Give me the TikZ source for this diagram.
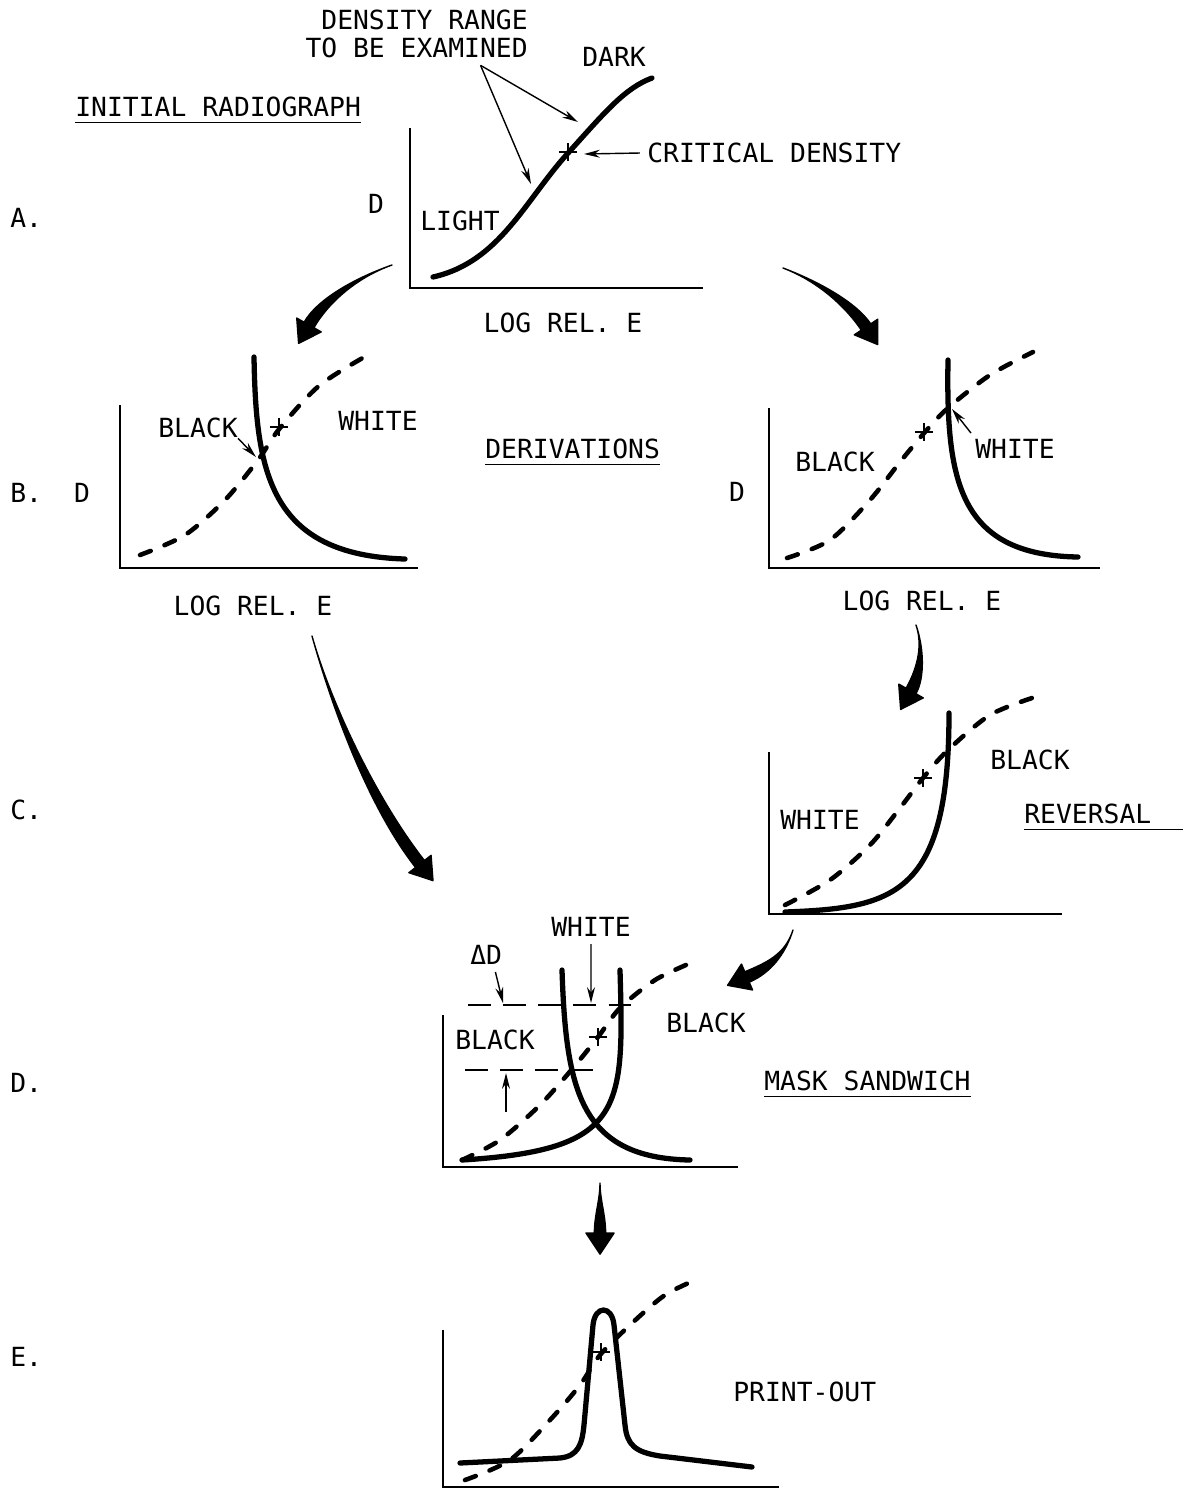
\documentclass[tikz,border=0pt]{standalone}
\usepackage{fontspec}
\setmainfont{DejaVu Sans Mono}
\usetikzlibrary{arrows.meta,calc,positioning}
\newcommand{\lblfont}{\fontsize{15}{18}\selectfont}
% tapered arrow: start, control 1, control 2, head base
\newcommand{\fatarrow}[4]{%
  \filldraw[line width=0.8pt,line join=round] (#1) .. controls (#2) and ($(#3)!3.2pt!90:(#4)$) .. ($(#4)!3.2pt!-90:(#3)$)
    -- ($(#4)!8pt!-90:(#3)$) -- ($(#4)!12pt!180:(#3)$) -- ($(#4)!8pt!90:(#3)$)
    -- ($(#4)!3.2pt!90:(#3)$) .. controls ($(#3)!3.2pt!-90:(#4)$) and (#2) .. (#1) -- cycle;}

\begin{document}
\begin{tikzpicture}[x=0.02cm,y=-0.02cm,
  lbl/.style={font=\lblfont,inner sep=0pt,anchor=west},
  axis/.style={line width=1.6pt},
  resp/.style={line width=3pt,line cap=round,line join=round},
  refcurve/.style={line width=2.6pt,line cap=round,dash pattern=on 6.5pt off 8.5pt},
  ptr/.style={-{Stealth[length=9pt,width=4.5pt]},line width=0.8pt},
  level/.style={line width=1pt,dash pattern=on 13pt off 7pt},
  crit/.pic={\draw[line width=1.6pt] (-9,0) -- (9,0) (0,-9) -- (0,9);}]

\useasboundingbox (0,0) rectangle (1185,1492);

% A. initial radiograph
\draw[axis] (410,128) -- (410,288) -- (703,288);
\draw[resp] (433,277) .. controls (500,262) and (525,200) .. (569,152) .. controls (605,112) and (625,88) .. (652,78);
\coordinate (xA) at (568,152);
\pic at (xA) {crit};
\node[lbl,anchor=east] (rng1) at (528,20) {DENSITY RANGE};
\node[lbl,anchor=east] (rng2) at (528,48) {TO BE EXAMINED};
\coordinate (lo) at (531,184);
\coordinate (hi) at (578,122);
\draw[ptr] ([xshift=-27pt,yshift=-4pt]rng2.south east) -- (lo);
\draw[ptr] ([xshift=-27pt,yshift=-4pt]rng2.south east) -- (hi);
\node[lbl] (dark) at (582,57) {DARK};
\node[lbl] (init) at (75,107) {INITIAL RADIOGRAPH};
\draw[line width=1pt] ([yshift=-3pt]init.south west) -- ([yshift=-3pt]init.south east);
\node[lbl] (crit) at (647,153) {CRITICAL DENSITY};
\coordinate (xAr) at (584,154);
\draw[ptr] ([xshift=-4pt]crit.west) -- (xAr);
\node[lbl,anchor=center] (dA) at (376,204) {D};
\node[lbl] (light) at (420,221) {LIGHT};
\node[lbl,anchor=center] (logA) at (563,323) {LOG REL. E};
\node[lbl] (rowA) at (10,218) {A.};

% B. derivations, left
\draw[axis] (120,405) -- (120,568) -- (418,568);
\draw[refcurve] plot[smooth] coordinates {(140,555) (185,535) (225,500) (258,460) (280,428) (320,385) (373,352)};
\draw[resp] (254,357) .. controls (256,470) and (268,555) .. (405,559);
\coordinate (xB) at (279,427);
\pic at (xB) {crit};
\node[lbl] (blackB) at (158,428) {BLACK};
\coordinate (cutB) at (256,457);
\draw[ptr] (blackB.south east) -- (cutB);
\node[lbl] (whiteB) at (338,421) {WHITE};
\node[lbl,anchor=center] (dB) at (82,493) {D};
\node[lbl] (rowB) at (10,493) {B.};
\node[lbl,anchor=center] (logB) at (253,606) {LOG REL. E};
\node[lbl] (deriv) at (485,449) {DERIVATIONS};
\draw[line width=1pt] ([yshift=-3pt]deriv.south west) -- ([yshift=-3pt]deriv.south east);

% B. derivations, right
\draw[axis] (769,408) -- (769,568) -- (1100,568);
\draw[refcurve] plot[smooth] coordinates {(787,558) (830,540) (870,500) (900,462) (925,432) (948,408) (990,375) (1033,352)};
\draw[resp] (948,360) .. controls (946,480) and (958,555) .. (1078,557);
\coordinate (xBr) at (924,432);
\pic at (xBr) {crit};
\node[lbl] (blackBr) at (795,462) {BLACK};
\node[lbl] (whiteBr) at (975,449) {WHITE};
\coordinate (cutBr) at (952,409);
\draw[ptr] ([shift={(-4,-6)}]whiteBr.north west) -- (cutBr);
\node[lbl,anchor=center] (dBr) at (737,492) {D};
\node[lbl,anchor=center] (logBr) at (922,601) {LOG REL. E};

% C. reversal
\draw[axis] (769,752) -- (769,914) -- (1062,914);
\draw[refcurve] plot[smooth] coordinates {(785,905) (830,880) (870,845) (900,808) (923,778) (948,750) (990,715) (1035,697)};
\draw[resp] (785,912) .. controls (895,908) and (949,895) .. (949,713);
\coordinate (xC) at (923,778);
\pic at (xC) {crit};
\node[lbl] (blackC) at (990,760) {BLACK};
\node[lbl] (whiteC) at (780,820) {WHITE};
\node[lbl] (rev) at (1024,814) {REVERSAL};
\draw[line width=1pt] ([yshift=-3pt]rev.south west) -- ([xshift=18pt,yshift=-3pt]rev.south east);
\node[lbl] (rowC) at (10,810) {C.};

% D. mask sandwich
\draw[axis] (443,1015) -- (443,1167) -- (738,1167);
\draw[level] (468,1005) -- (640,1005);
\draw[level] (465,1070) -- (597,1070);
\draw[refcurve] plot[smooth] coordinates {(462,1160) (500,1140) (540,1105) (573,1068) (598,1037) (620,1008) (655,980) (693,962)};
\draw[resp] (562,970) .. controls (566,1090) and (580,1158) .. (690,1160);
\draw[resp] (620,970) .. controls (624,1110) and (625,1150) .. (462,1160);
\coordinate (xD) at (598,1037);
\pic at (xD) {crit};
\node[lbl] (whiteD) at (551,927) {WHITE};
\coordinate (whtD) at (591,1003);
\draw[ptr] ([yshift=-4pt]whiteD.south) -- (whtD);
\node[lbl] (delta) at (470,955) {ΔD};
\coordinate (topD) at (503,1003);
\draw[ptr] ([xshift=-4pt,yshift=-4pt]delta.south east) -- (topD);
\coordinate (botS) at (506,1112);
\coordinate (botD) at (506,1073);
\draw[ptr] (botS) -- (botD);
\node[lbl] (blackDl) at (455,1040) {BLACK};
\node[lbl] (blackDr) at (666,1023) {BLACK};
\node[lbl] (mask) at (764,1081) {MASK SANDWICH};
\draw[line width=1pt] ([yshift=-3pt]mask.south west) -- ([yshift=-3pt]mask.south east);
\node[lbl] (rowD) at (10,1083) {D.};

% E. print-out
\draw[axis] (443,1330) -- (443,1487) -- (779,1487);
\draw[refcurve] plot[smooth] coordinates {(465,1480) (510,1460) (550,1420) (580,1385) (600,1355) (630,1325) (665,1295) (700,1278)};
\draw[resp] (460,1463) -- (560,1458) .. controls (578,1456) and (582,1445) .. (584,1425) -- (593,1325)
  .. controls (595,1305) and (612,1305) .. (614,1325) -- (625,1425) .. controls (627,1445) and (635,1452) .. (660,1456) -- (752,1467);
\coordinate (xE) at (601,1352);
\pic at (xE) {crit};
\node[lbl] (print) at (733,1392) {PRINT-OUT};
\node[lbl] (rowE) at (10,1357) {E.};

% big arrows between the steps
\coordinate (a1s) at (392,265); \coordinate (a1c) at (355,278); \coordinate (a1d) at (322,302); \coordinate (a1e) at (309,325);
\coordinate (a2s) at (783,268); \coordinate (a2c) at (820,282); \coordinate (a2d) at (852,306); \coordinate (a2e) at (866,327);
\coordinate (a3s) at (312,636); \coordinate (a3c) at (330,700); \coordinate (a3d) at (370,800); \coordinate (a3e) at (420,864);
\coordinate (a4s) at (916,625); \coordinate (a4c) at (924,648); \coordinate (a4d) at (920,675); \coordinate (a4e) at (911,691);
\coordinate (a5s) at (793,930); \coordinate (a5c) at (785,955); \coordinate (a5d) at (768,968); \coordinate (a5e) at (747,977);
\coordinate (a6s) at (600,1183); \coordinate (a6c) at (600,1200); \coordinate (a6d) at (600,1215); \coordinate (a6e) at (600,1233);
\fatarrow{a1s}{a1c}{a1d}{a1e}
\fatarrow{a2s}{a2c}{a2d}{a2e}
\fatarrow{a3s}{a3c}{a3d}{a3e}
\fatarrow{a4s}{a4c}{a4d}{a4e}
\fatarrow{a5s}{a5c}{a5d}{a5e}
\fatarrow{a6s}{a6c}{a6d}{a6e}
\end{tikzpicture}
\end{document}
